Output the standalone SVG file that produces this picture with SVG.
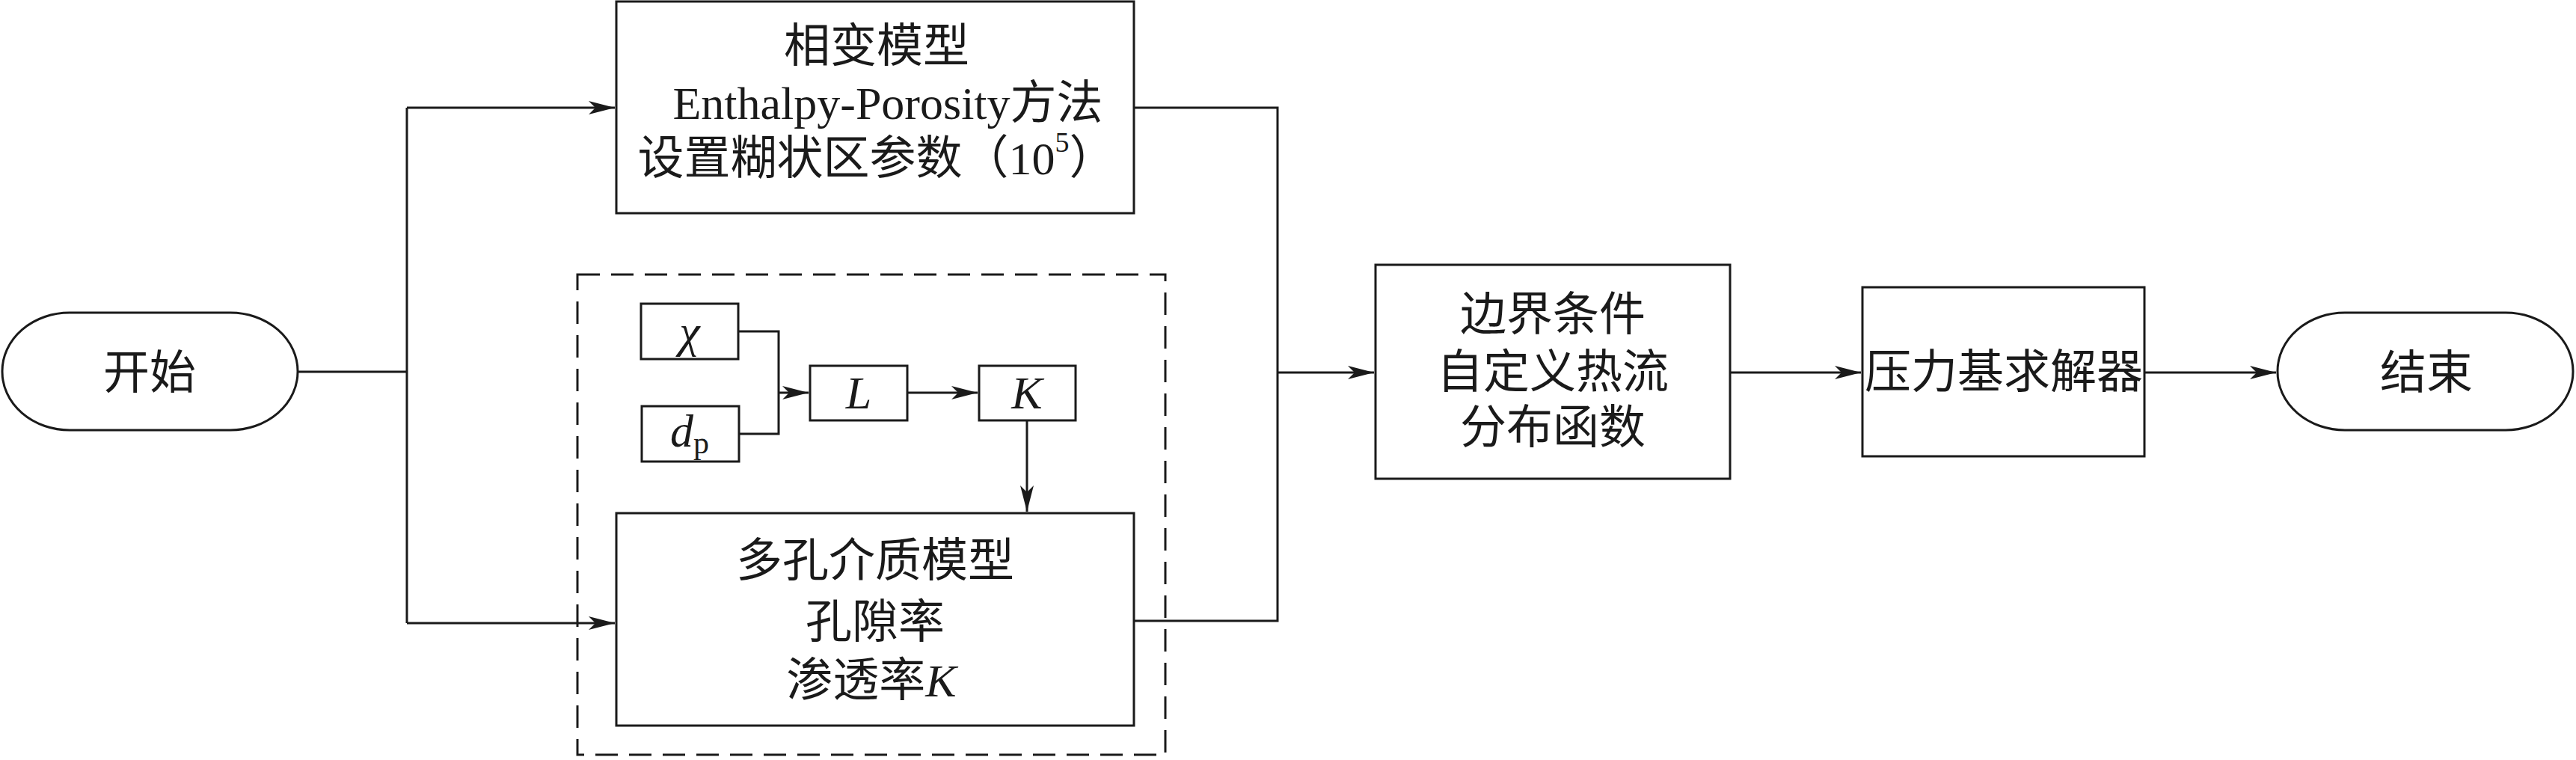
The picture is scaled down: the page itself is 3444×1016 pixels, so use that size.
<svg xmlns="http://www.w3.org/2000/svg" width="3444" height="1016" viewBox="0 0 3444 1016">
<style>
.box{fill:#fff;stroke:#1a1a1a;stroke-width:3}
.ln{fill:none;stroke:#1a1a1a;stroke-width:3}
.dash{fill:none;stroke:#1a1a1a;stroke-width:3;stroke-dasharray:30 15}
text{font-family:"Liberation Serif","Noto Sans CJK SC",serif;font-size:62px;fill:#1a1a1a;text-anchor:middle;dominant-baseline:central}
.it{font-style:italic}
</style>
<defs>
<marker id="ah" markerUnits="userSpaceOnUse" markerWidth="40" markerHeight="24" viewBox="-36 -12 40 24" refX="0" refY="0" orient="auto">
<path d="M0,0 L-35,-9 L-26,0 L-35,9 Z" fill="#1a1a1a"/>
</marker>
</defs>
<rect width="3444" height="1016" fill="#fff"/>
<g id="connectors">
<path class="ln" d="M398,497 H544"/>
<path class="ln" d="M544,144 V833"/>
<path class="ln" d="M544,144 H822" marker-end="url(#ah)"/>
<path class="ln" d="M544,833 H822" marker-end="url(#ah)"/>
<path class="ln" d="M1516,144 H1708 V830 H1516"/>
<path class="ln" d="M1708,498 H1837" marker-end="url(#ah)"/>
<path class="ln" d="M2313,498 H2488" marker-end="url(#ah)"/>
<path class="ln" d="M2867,498 H3043" marker-end="url(#ah)"/>
<path class="ln" d="M987,443 H1041 V580 H988"/>
<path class="ln" d="M1041,525 H1081" marker-end="url(#ah)"/>
<path class="ln" d="M1213,525 H1307" marker-end="url(#ah)"/>
<path class="ln" d="M1373,562 V684" marker-end="url(#ah)"/>
</g>
<g id="group-porous">
<rect class="dash" x="772" y="367" width="786" height="642"/>
</g>
<g id="start">
<rect class="box" x="3" y="418" width="395" height="157" rx="90" ry="78"/>
<text x="200" y="499">开始</text>
</g>
<g id="phase-change">
<rect class="box" x="824" y="2" width="692" height="283"/>
<text x="1172" y="62">相变模型</text>
<text x="1187" y="138">Enthalpy-Porosity方法</text>
<text x="1172" y="212">设置糊状区参数（10<tspan font-size="38" dy="-22">5</tspan><tspan dy="22">）</tspan></text>
</g>
<g id="chi">
<rect class="box" x="857" y="406" width="130" height="74"/>
<text class="it" x="922" y="443">χ</text>
</g>
<g id="dp">
<rect class="box" x="858" y="543" width="130" height="74"/>
<text x="922" y="576"><tspan class="it">d</tspan><tspan font-size="42" dy="16">p</tspan></text>
</g>
<g id="L">
<rect class="box" x="1083" y="489" width="130" height="73"/>
<text class="it" x="1148" y="525">L</text>
</g>
<g id="K">
<rect class="box" x="1309" y="489" width="129" height="73"/>
<text class="it" x="1373" y="525">K</text>
</g>
<g id="porous">
<rect class="box" x="824" y="686" width="692" height="284"/>
<text x="1170" y="750">多孔介质模型</text>
<text x="1170" y="832">孔隙率</text>
<text x="1165" y="910">渗透率<tspan class="it">K</tspan></text>
</g>
<g id="boundary">
<rect class="box" x="1839" y="354" width="474" height="286"/>
<text x="2076" y="421">边界条件</text>
<text x="2076" y="498">自定义热流</text>
<text x="2076" y="572">分布函数</text>
</g>
<g id="solver">
<rect class="box" x="2490" y="384" width="377" height="226"/>
<text x="2679" y="498">压力基求解器</text>
</g>
<g id="end">
<rect class="box" x="3045" y="418" width="395" height="157" rx="90" ry="78"/>
<text x="3244" y="499">结束</text>
</g>
</svg>
